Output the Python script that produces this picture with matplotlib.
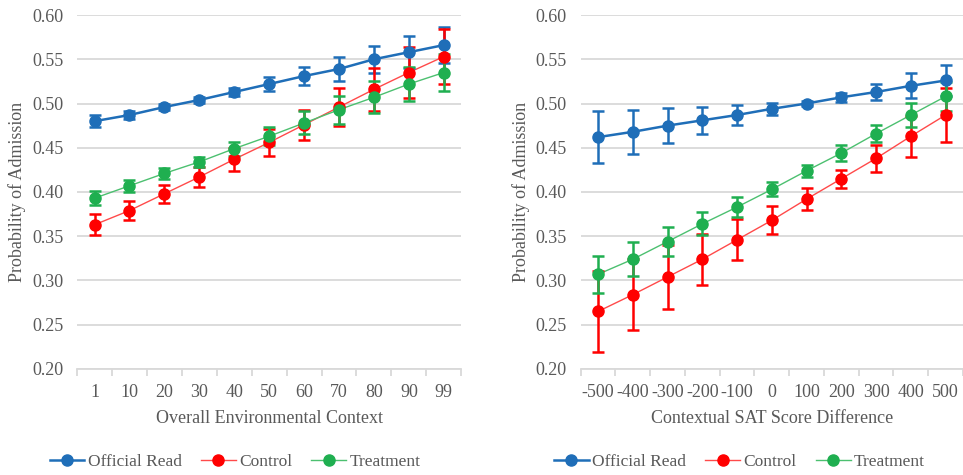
import matplotlib
matplotlib.use("Agg")
import matplotlib.pyplot as plt
from matplotlib.lines import Line2D
import numpy as np

plt.rcParams['font.family'] = ['Liberation Serif', 'DejaVu Serif']

# ---- data ----
env_labels = ["1", "10", "20", "30", "40", "50", "60", "70", "80", "90", "99"]
env_official = [0.480, 0.487, 0.496, 0.504, 0.513, 0.522, 0.531, 0.539, 0.550, 0.558, 0.566]
env_official_err = [0.007, 0.004, 0.003, 0.003, 0.005, 0.008, 0.010, 0.014, 0.015, 0.018, 0.020]
env_control = [0.363, 0.379, 0.398, 0.417, 0.437, 0.456, 0.476, 0.496, 0.516, 0.535, 0.553]
env_control_err = [0.012, 0.011, 0.010, 0.011, 0.013, 0.015, 0.017, 0.021, 0.024, 0.029, 0.031]
env_treat = [0.393, 0.407, 0.421, 0.434, 0.449, 0.463, 0.478, 0.493, 0.507, 0.522, 0.535]
env_treat_err = [0.008, 0.007, 0.006, 0.006, 0.008, 0.010, 0.013, 0.016, 0.018, 0.019, 0.021]

sat_labels = ["-500", "-400", "-300", "-200", "-100", "0", "100", "200", "300", "400", "500"]
sat_official = [0.462, 0.468, 0.475, 0.481, 0.487, 0.494, 0.500, 0.507, 0.513, 0.520, 0.526]
sat_official_err = [0.029, 0.025, 0.020, 0.015, 0.011, 0.007, 0.003, 0.005, 0.009, 0.014, 0.018]
sat_control = [0.265, 0.284, 0.304, 0.324, 0.346, 0.368, 0.392, 0.415, 0.438, 0.463, 0.487]
sat_control_err = [0.046, 0.040, 0.036, 0.029, 0.023, 0.016, 0.012, 0.010, 0.015, 0.023, 0.031]
sat_treat = [0.307, 0.324, 0.344, 0.364, 0.383, 0.403, 0.424, 0.444, 0.466, 0.487, 0.508]
sat_treat_err = [0.021, 0.019, 0.016, 0.013, 0.011, 0.008, 0.007, 0.009, 0.010, 0.014, 0.016]

series_names = ["Official Read", "Control", "Treatment"]
marker_colors = ["#1F6EB8", "#FF0000", "#1FAF50"]
line_colors = ["#1F6EB8", "#FF4A4A", "#4CC070"]
line_widths = [1.8, 1.0, 1.0]

TXT = "#595959"
GRID = "#D9D9D9"
FS = 13

fig = plt.figure(figsize=(9.63, 4.75), dpi=100)
ax1 = fig.add_axes([0.080, 0.2232, 0.399, 0.7452])
ax2 = fig.add_axes([0.603, 0.2232, 0.397, 0.7452])

def draw(ax, labels, data, xlabel, legend_cx):
    x = np.arange(len(labels))
    for (vals, errs), mc, lc, lw in zip(data, marker_colors, line_colors, line_widths):
        ax.plot(x, vals, color=lc, lw=lw, zorder=3)
        ax.errorbar(x, vals, yerr=errs, fmt='none', ecolor=mc, elinewidth=1.8,
                    capsize=4, capthick=1.8, zorder=4)
        ax.plot(x, vals, 'o', color=mc, ms=8, zorder=5, mec=mc)
    ax.set_xlim(-0.5, len(labels) - 0.5)
    ax.set_ylim(0.20, 0.60)
    ax.set_yticks(np.arange(0.20, 0.601, 0.05))
    ax.set_yticklabels([f"{v:.2f}" for v in np.arange(0.20, 0.601, 0.05)])
    ax.set_xticks(x)
    ax.set_xticklabels(labels)
    ax.set_xticks(np.arange(-0.5, len(labels), 1.0), minor=True)
    ax.tick_params(axis='x', which='major', length=0, pad=11, labelsize=FS, colors=TXT)
    ax.tick_params(axis='x', which='minor', length=5, width=1.3, color=GRID)
    ax.tick_params(axis='y', length=0, pad=10, labelsize=FS, colors=TXT)
    for s in ['top', 'right', 'left']:
        ax.spines[s].set_visible(False)
    ax.spines['bottom'].set_color(GRID)
    ax.spines['bottom'].set_linewidth(1.3)
    ax.grid(axis='y', color=GRID, lw=1.3, zorder=0)
    ax.set_axisbelow(True)
    ax.set_xlabel(xlabel, fontsize=FS, color=TXT, labelpad=6)
    ax.set_ylabel("Probability of Admission", fontsize=FS, color=TXT, labelpad=4)
    handles = [Line2D([0], [0], color=lc, lw=lw, marker='o', ms=8,
                      markerfacecolor=mc, markeredgecolor=mc)
               for mc, lc, lw in zip(marker_colors, line_colors, line_widths)]
    fig.legend(handles, series_names, loc='center', bbox_to_anchor=(legend_cx, 0.027),
               ncol=3, frameon=False, fontsize=12.5, labelcolor=TXT,
               handlelength=2.0, handletextpad=0.2, columnspacing=1.1)

draw(ax1, env_labels,
     [(env_official, env_official_err), (env_control, env_control_err), (env_treat, env_treat_err)],
     "Overall Environmental Context", 0.244)
draw(ax2, sat_labels,
     [(sat_official, sat_official_err), (sat_control, sat_control_err), (sat_treat, sat_treat_err)],
     "Contextual SAT Score Difference", 0.768)

fig.savefig("out.png", dpi=100)
